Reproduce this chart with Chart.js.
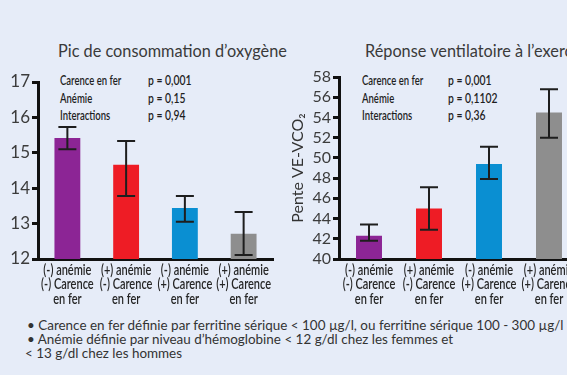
<!DOCTYPE html>
<html>
<head>
<meta charset="utf-8">
<script src="https://cdn.jsdelivr.net/npm/chart.js@4"></script>
<style>
	html, body { margin: 0; padding: 0; }
	body { width: 567px; height: 375px; overflow: hidden; background: #e6ecf8; position: relative; font-family: Lato, "Open Sans", sans-serif; }
	canvas { position: absolute; }
	.title { position: absolute; top: 41px; font-size: 16.3px; color: #3a3a3a; white-space: nowrap; }
	.stats { position: absolute; top: 71px; font-family: Lato, sans-serif; font-weight: 600; font-size: 14px; line-height: 17.5px; color: #1e1e1e; white-space: nowrap; transform-origin: 0 0; }
	.lab { transform: scaleX(0.68); }
	.pv { transform: scaleX(0.74); }
	.notes { position: absolute; left: 25px; top: 319px; font-size: 13.45px; line-height: 13.8px; color: #333; white-space: nowrap; }
</style>
</head>
<body>
<div class="title" style="left:58px">Pic de consommation d’oxygène</div>
<div class="title" style="left:365px">Réponse ventilatoire à l’exercice</div>
<div class="stats lab" id="statsL1" style="left:60px"></div>
<div class="stats pv" id="statsL2" style="left:148px"></div>
<div class="stats lab" id="statsR1" style="left:362px"></div>
<div class="stats pv" id="statsR2" style="left:448px"></div>
<div class="notes">
	<span style="padding-left:2px">• Carence en fer définie par ferritine sérique &lt; 100 µg/l, ou ferritine sérique 100 - 300 µg/l</span><br>
	<span style="padding-left:2px">• Anémie définie par niveau d’hémoglobine &lt; 12 g/dl chez les femmes et</span><br>
	&lt; 13 g/dl chez les hommes
</div>
<canvas id="vo2" width="320" height="320" style="left:-30px; top:0"></canvas>
<canvas id="ve" width="300" height="320" style="left:285px; top:0"></canvas>
<script>
var categories = [
	['(-) anémie', '(-) Carence', 'en fer'],
	['(+) anémie', '(-) Carence', 'en fer'],
	['(-) anémie', '(+) Carence', 'en fer'],
	['(+) anémie', '(+) Carence', 'en fer']
];
var barColors = ['#8c2595', '#ee1c25', '#0a8fd2', '#8e8e8e'];

// pic VO2
var vo2Values = [15.42, 14.66, 13.44, 12.71];
var vo2Low = [15.1, 13.78, 13.05, 12.11];
var vo2High = [15.73, 15.33, 13.78, 13.33];

// pente VE-VCO2
var veValues = [42.3, 45.0, 49.4, 54.5];
var veLow = [41.8, 42.9, 47.9, 52.0];
var veHigh = [43.4, 47.1, 51.1, 56.8];

var statLabels = ['Carence en fer', 'Anémie', 'Interactions'];
var vo2P = ['p = 0,001', 'p = 0,15', 'p = 0,94'];
var veP = ['p = 0,001', 'p = 0,1102', 'p = 0,36'];

document.getElementById('statsL1').innerHTML = statLabels.join('<br>');
document.getElementById('statsL2').innerHTML = vo2P.join('<br>');
document.getElementById('statsR1').innerHTML = statLabels.join('<br>');
document.getElementById('statsR2').innerHTML = veP.join('<br>');

// error bars drawn with the y scale of each chart
var errorBars = {
	id: 'errorBars',
	afterDatasetsDraw: function (chart, args, opts) {
		var ctx = chart.ctx;
		var y = chart.scales.y;
		var meta = chart.getDatasetMeta(0);
		ctx.save();
		ctx.strokeStyle = '#1e1e1e';
		ctx.lineWidth = 2;
		meta.data.forEach(function (bar, i) {
			var top = y.getPixelForValue(opts.high[i]);
			var bottom = y.getPixelForValue(opts.low[i]);
			ctx.beginPath();
			ctx.moveTo(bar.x, top);
			ctx.lineTo(bar.x, bottom);
			ctx.moveTo(bar.x - 9, top);
			ctx.lineTo(bar.x + 9, top);
			ctx.moveTo(bar.x - 9, bottom);
			ctx.lineTo(bar.x + 9, bottom);
			ctx.stroke();
		});
		ctx.restore();
	}
};

// condensed category labels (no condensed font installed)
var narrowLabels = {
	id: 'narrowLabels',
	afterDraw: function (chart) {
		var ctx = chart.ctx;
		var xs = chart.scales.x;
		ctx.save();
		ctx.fillStyle = '#262626';
		ctx.font = '600 14.5px Lato';
		ctx.textAlign = 'center';
		ctx.textBaseline = 'middle';
		chart.data.labels.forEach(function (lines, i) {
			var x = xs.getPixelForTick(i);
			lines.forEach(function (t, j) {
				ctx.save();
				ctx.translate(x, xs.top + 11 + j * 14.5);
				ctx.scale(0.76, 1);
				ctx.fillText(t, 0, 0);
				ctx.restore();
			});
		});
		ctx.restore();
	}
};

function chartInit(idName, values, low, high, yMin, yMax, step, yTitle, o) {
	var ctx = document.getElementById(idName).getContext('2d');
	return new Chart(ctx, {
		type: 'bar',
		data: {
			labels: categories,
			datasets: [{
				data: values,
				backgroundColor: barColors,
				barPercentage: o.barPct,
				categoryPercentage: 1
			}]
		},
		plugins: [errorBars, narrowLabels],
		options: {
			responsive: false,
			animation: false,
			layout: { padding: { top: o.padTop, right: o.padRight, left: 0, bottom: 0 } },
			plugins: {
				legend: { display: false },
				tooltip: { enabled: false },
				errorBars: { low: low, high: high }
			},
			scales: {
				x: {
					afterFit: function (s) { s.height = 61; },
					border: { display: true, width: 3, color: '#111' },
					grid: {
						drawOnChartArea: false,
						tickLength: 5,
						lineWidth: 2,
						color: function (c) { return c.index === 4 ? '#111' : 'rgba(0,0,0,0)'; }
					},
					ticks: { display: false, autoSkip: false }
				},
				y: {
					min: yMin,
					max: yMax,
					afterFit: function (s) { s.width = o.yWidth; },
					border: { display: true, width: 3, color: '#111' },
					grid: { drawOnChartArea: false, tickLength: 6, lineWidth: 3, color: '#111' },
					ticks: {
						stepSize: step,
						autoSkip: false,
						padding: 2,
						color: '#3c3c3c',
						font: { family: 'Lato', size: o.tickSize }
					},
					title: {
						display: true,
						text: yTitle,
						color: '#333',
						padding: { top: o.titlePad, bottom: 0 },
						font: { family: 'Lato', size: 16 }
					}
				}
			}
		}
	});
}

chartInit('vo2', vo2Values, vo2Low, vo2High, 12, 17, 1, 'Pic de VO₂ (ml/kg/min)',
	{ padTop: 82, padRight: 17, yWidth: 68, barPct: 0.44, tickSize: 17, titlePad: 11 });
chartInit('ve', veValues, veLow, veHigh, 40, 58, 2, 'Pente VE-VCO₂',
	{ padTop: 77, padRight: 6, yWidth: 54, barPct: 0.433, tickSize: 16, titlePad: 3 });
</script>
</body>
</html>
